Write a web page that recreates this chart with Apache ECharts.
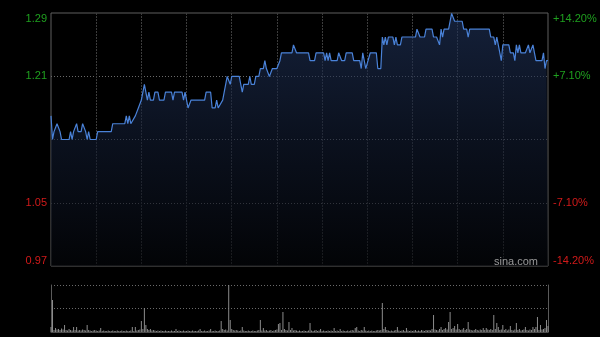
<!DOCTYPE html>
<html>
<head>
<meta charset="utf-8">
<script src="https://cdn.jsdelivr.net/npm/echarts@6/dist/echarts.min.js"></script>
<style>
html,body{margin:0;padding:0;background:#000;}
#c{width:600px;height:337px;}
</style>
</head>
<body>
<div id="c"></div>
<script>
// ---- data ----
var prevClose = 1.13;
var pctRange = 14.2;            // +/- percent shown on the axes
var sessionMinutes = 330;       // 09:30-12:00, 13:00-16:00
var gridMinutes = 30;

// price path: minute index since open, price
var priceMinutes = [0,1,2,4,5,6,7,12,13,14,15,17,18,20,21,23,24,25,26,30,31,40,41,49,50,51,52,53,54,56,57,58,59,60,62,64,65,66,68,69,71,72,75,76,80,81,82,87,88,89,90,91,93,102,103,106,107,109,110,111,112,114,115,117,118,119,120,125,126,127,128,131,132,133,135,136,138,139,141,142,143,145,147,150,152,153,160,161,163,171,172,175,176,181,182,183,184,185,186,190,191,193,195,196,200,201,205,206,207,208,209,210,212,216,217,219,220,221,222,223,224,227,228,229,230,232,233,242,243,244,245,248,249,253,254,256,258,259,260,261,264,266,268,273,274,276,277,278,291,292,294,295,296,297,299,300,304,305,307,308,309,310,311,312,315,317,318,319,320,321,322,326,327,328,329,330];
var priceValues = [1.16,1.13,1.14,1.15,1.15,1.14,1.13,1.13,1.14,1.13,1.14,1.15,1.14,1.14,1.15,1.14,1.13,1.14,1.13,1.13,1.14,1.14,1.15,1.15,1.16,1.15,1.16,1.15,1.15,1.16,1.16,1.17,1.17,1.18,1.20,1.18,1.19,1.18,1.18,1.19,1.19,1.18,1.18,1.19,1.19,1.18,1.19,1.19,1.18,1.19,1.19,1.17,1.18,1.18,1.19,1.19,1.17,1.17,1.18,1.17,1.17,1.18,1.19,1.21,1.21,1.20,1.21,1.21,1.20,1.19,1.20,1.20,1.21,1.20,1.20,1.21,1.21,1.22,1.22,1.23,1.22,1.21,1.22,1.22,1.23,1.24,1.24,1.25,1.24,1.24,1.23,1.23,1.24,1.24,1.23,1.24,1.23,1.24,1.23,1.23,1.24,1.23,1.23,1.24,1.24,1.23,1.23,1.22,1.24,1.24,1.22,1.22,1.24,1.24,1.22,1.22,1.26,1.25,1.26,1.25,1.26,1.26,1.25,1.26,1.25,1.25,1.26,1.26,1.27,1.27,1.26,1.26,1.27,1.27,1.26,1.26,1.25,1.27,1.26,1.27,1.27,1.29,1.28,1.28,1.27,1.27,1.26,1.27,1.27,1.26,1.26,1.25,1.26,1.26,1.23,1.25,1.25,1.24,1.24,1.23,1.25,1.24,1.25,1.24,1.24,1.25,1.24,1.24,1.25,1.24,1.23,1.23,1.24,1.22,1.23,1.23];

// volume per minute (0..330)
var volumes = [
 50,320,20,40,25,30,20,35,25,70, 20,15,30,20,15,50,20,50,15,20, 15,25,20,15,70,20,15,10,15,20,
 15,10,15,40,10,15,10,10,15,10, 10,15,10,10,15,10,10,15,10,10, 15,10,10,15,50,10,50,15,20,25,
 110,30,240,70,30,20,30,15,20,15, 10,15,10,15,10,10,15,10,10,10, 15,10,10,30,10,15,10,10,15,10,
 10,15,10,10,15,10,10,10,15,30, 10,10,15,10,10,15,30,10,10,15, 10,10,15,110,30,20,25,15,470,120,
 30,20,15,20,15,10,15,50,15,10, 10,15,10,10,15,10,10,15,20,120, 15,40,15,20,10,15,20,10,15,20,
 25,80,90,20,200,30,20,15,100,20, 40,15,20,15,10,15,10,10,15,10, 10,15,90,15,10,15,20,10,15,30,
 10,15,10,10,15,10,15,10,40,10, 15,10,30,10,15,10,10,15,10,15, 20,15,40,50,15,10,20,15,50,15,
 10,15,10,15,10,10,15,20,15,20, 290,30,50,20,15,10,15,10,15,20, 50,15,10,15,20,10,40,15,10,15,
 10,15,20,10,15,10,20,15,10,20, 15,20,15,30,170,25,20,15,30,50, 20,30,40,25,100,200,30,40,60,25,
 80,30,20,25,40,20,30,100,25,20, 15,20,30,20,15,25,20,40,20,40, 25,20,30,20,170,30,90,50,20,25,
 70,20,30,15,25,60,20,15,25,90, 20,30,15,20,25,50,20,15,25,20, 50,30,50,150,20,70,25,30,40,120,
 60
];
var volumeMax = 470;

// ---- build ----
var pricePairs = priceMinutes.map(function (m, i) { return [m, priceValues[i]]; });
var volPairs = volumes.map(function (v, i) { return [i, v]; });

var GREEN = '#1fa01f', RED = '#d21a1a';
function pctColor(v) { return v > 0.001 ? GREEN : (v < -0.001 ? RED : 'transparent'); }

var chart = echarts.init(document.getElementById('c'), null, { renderer: 'canvas' });
chart.setOption({
  backgroundColor: '#000',
  animation: false,
  grid: [
    { left: 51, right: 52, top: 13, height: 253, show: true, borderColor: '#5e5e5e', borderWidth: 1, backgroundColor: 'transparent' },
    { left: 51, right: 52, top: 285, height: 47 }
  ],
  xAxis: [
    { type: 'value', gridIndex: 0, min: 0, max: sessionMinutes, interval: gridMinutes,
      axisLine: { show: false }, axisTick: { show: false }, axisLabel: { show: false },
      splitLine: { show: true, showMinLine: false, showMaxLine: false, lineStyle: { color: '#3c3c3c', type: [2, 1], width: 1 } } },
    { type: 'value', gridIndex: 1, min: 0, max: sessionMinutes, interval: gridMinutes,
      axisLine: { show: true, lineStyle: { color: '#4a4a4a' } }, axisTick: { show: false }, axisLabel: { show: false },
      splitLine: { show: false } }
  ],
  yAxis: [
    { type: 'value', gridIndex: 0, show: false,
      min: prevClose * (1 - pctRange / 100), max: prevClose * (1 + pctRange / 100) },
    { type: 'value', gridIndex: 0, position: 'right', min: -pctRange, max: pctRange, interval: 7.1,
      axisLine: { show: false }, axisTick: { show: false },
      splitLine: { show: true, showMinLine: false, showMaxLine: false, lineStyle: { color: '#6a6a6a', type: [1, 2], width: 1 } },
      axisLabel: {
        margin: 5, fontSize: 11, fontFamily: 'Liberation Sans, Arial, sans-serif',
        verticalAlignMaxLabel: 'top', verticalAlignMinLabel: 'bottom',
        color: function (v) { return pctColor(+v); },
        formatter: function (v) {
          if (Math.abs(v) < 0.001) return '';
          return (v > 0 ? '+' : '-') + Math.abs(v).toFixed(2) + '%';
        }
      } },
    { type: 'value', gridIndex: 0, position: 'left', min: -pctRange, max: pctRange, interval: 7.1,
      axisLine: { show: false }, axisTick: { show: false }, splitLine: { show: false },
      axisLabel: {
        margin: 4, fontSize: 11, fontFamily: 'Liberation Sans, Arial, sans-serif',
        verticalAlignMaxLabel: 'top', verticalAlignMinLabel: 'bottom',
        color: function (v) { return pctColor(+v); },
        formatter: function (v) {
          if (Math.abs(v) < 0.001) return '';
          return (prevClose * (1 + v / 100)).toFixed(2);
        }
      } },
    { type: 'value', gridIndex: 1, min: 0, max: volumeMax, interval: volumeMax / 2,
      axisLine: { show: true, lineStyle: { color: '#5a5a5a' } }, axisTick: { show: false }, axisLabel: { show: false },
      splitLine: { show: true, showMinLine: false, lineStyle: { color: '#6a6a6a', type: [1, 2] } } },
    { type: 'value', gridIndex: 1, position: 'right', min: 0, max: volumeMax,
      axisLine: { show: true, lineStyle: { color: '#5a5a5a' } }, axisTick: { show: false }, axisLabel: { show: false },
      splitLine: { show: false } }
  ],
  series: [
    { type: 'line', xAxisIndex: 0, yAxisIndex: 0, data: pricePairs, symbol: 'none', smooth: false,
      lineStyle: { color: '#4a82d8', width: 1.2 },
      areaStyle: { origin: 'start', color: new echarts.graphic.LinearGradient(0, 0, 0, 1, [
        { offset: 0, color: 'rgba(34,54,96,0.85)' },
        { offset: 0.5, color: 'rgba(18,28,50,0.85)' },
        { offset: 1, color: 'rgba(4,6,10,0.9)' }
      ]) } },
    { type: 'bar', xAxisIndex: 1, yAxisIndex: 3, data: volPairs, barWidth: 1,
      itemStyle: { color: '#8c8c8c' } }
  ],
  graphic: [
    { type: 'text', right: 62, top: 256, z: 10,
      style: { text: 'sina.com', fill: '#9a9a9a', font: '11px "Liberation Sans", Arial, sans-serif' } }
  ]
});
</script>
</body>
</html>
